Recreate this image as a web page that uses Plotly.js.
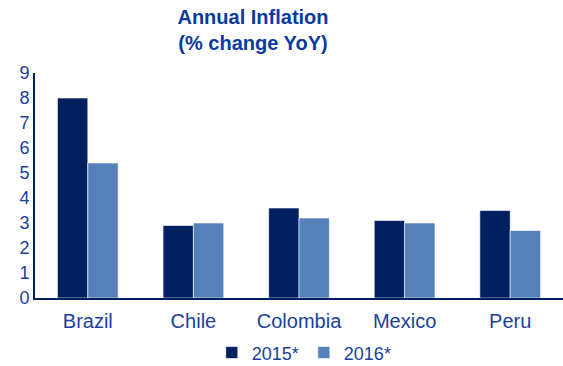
<!DOCTYPE html>
<html><head><meta charset="utf-8">
<script src="https://cdn.plot.ly/plotly-3.0.1.min.js"></script>
<style>html,body{margin:0;padding:0;background:#fff}#chart{width:563px;height:366px}</style>
</head><body><div id="chart"></div>
<script>
const categories = ["Brazil", "Chile", "Colombia", "Mexico", "Peru"];
const values2015 = [8.0, 2.9, 3.6, 3.1, 3.5];
const values2016 = [5.4, 3.0, 3.2, 3.0, 2.7];
const seriesNames = ["2015*", "2016*"];
const yTicks = [0,1,2,3,4,5,6,7,8,9];

const textColor = "#1A3F9C";
const fam = "Liberation Sans, Arial, sans-serif";

const traces = [
  {type: "bar", x: categories, y: values2015, name: seriesNames[0],
   marker: {color: "#002060", line: {color: "rgba(255,255,255,0.6)", width: 1}}},
  {type: "bar", x: categories, y: values2016, name: seriesNames[1],
   marker: {color: "#5580BA", line: {color: "rgba(255,255,255,0.6)", width: 1}}}
];

const layout = {
  width: 563, height: 366,
  margin: {l: 35, r: 0, t: 73, b: 68},
  paper_bgcolor: "#fff", plot_bgcolor: "#fff",
  font: {family: fam, size: 17, color: textColor},
  title: {text: "<b>Annual Inflation<br>(% change YoY)</b>", x: 253/563, xanchor: "center",
          y: 0.935, yanchor: "top", font: {family: fam, size: 20, color: "#0B3A9E"}},
  barmode: "group", bargap: 0.425, bargroupgap: 0,
  xaxis: {showline: true, linecolor: "#002060", linewidth: 2, ticks: "", showgrid: false,
          ticklabelstandoff: 4,
          tickfont: {family: fam, size: 20, color: textColor}, fixedrange: true},
  yaxis: {range: [0, 9], tickvals: yTicks, showline: true, linecolor: "#002060", linewidth: 2,
          showgrid: false, zeroline: false, ticks: "", ticklen: 0,
          tickfont: {family: fam, size: 18, color: textColor}, fixedrange: true},
  showlegend: true,
  legend: {orientation: "h", xref: "paper", x: 0.51, xanchor: "center",
           yref: "container", y: 0.036, yanchor: "middle",
           font: {family: fam, size: 18, color: textColor}, itemwidth: 30, tracegroupgap: 0}
};

Plotly.newPlot("chart", traces, layout, {displayModeBar: false, staticPlot: true});
</script></body></html>
